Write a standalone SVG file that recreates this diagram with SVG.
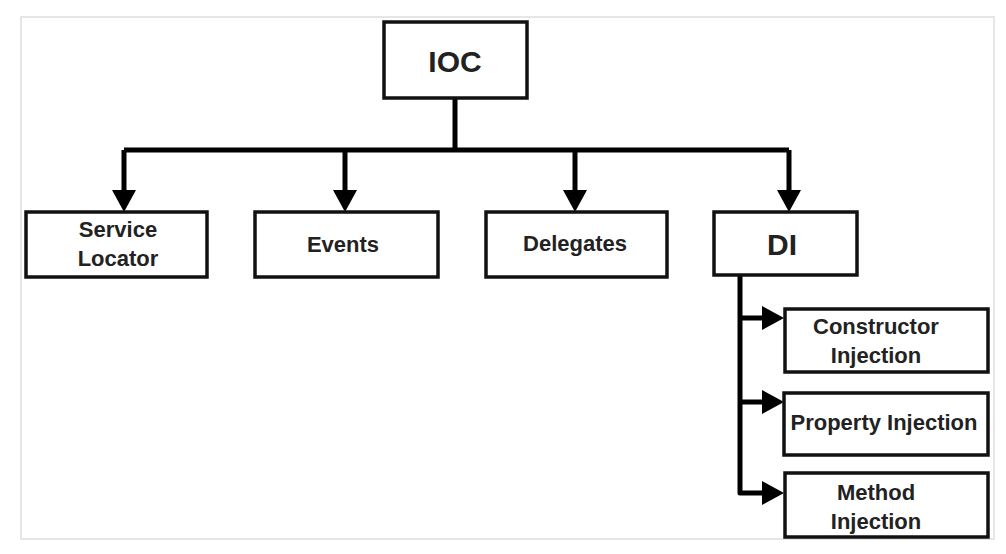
<svg xmlns="http://www.w3.org/2000/svg" width="1006" height="554" viewBox="0 0 1006 554">
<style>
.frame{fill:#fff;stroke:#e6e6e6;stroke-width:2}
.box{fill:#fff;stroke:#111;stroke-width:3.5}
.lbl{font-family:"Liberation Sans",Arial,sans-serif;font-weight:bold;font-size:22px;fill:#222;text-anchor:middle}
.big{font-size:30px}
.wire{fill:none;stroke:#000;stroke-width:5;stroke-linejoin:round}
.head{fill:#000}
</style>
<rect width="1006" height="554" fill="#fff"/>
<rect class="frame" x="21" y="17" width="973" height="522"/>
<g id="connectors">
<path class="wire" d="M455 98V150M124 150H789M124 150V194M345 150V194M575 150V194M789 150V194"/>
<path class="wire" d="M740 275V493H766M740 318H766M740 402H766"/>
<polygon class="head" points="112,190 136,190 124,212"/>
<polygon class="head" points="333,190 357,190 345,212"/>
<polygon class="head" points="563,190 587,190 575,212"/>
<polygon class="head" points="777,190 801,190 789,212"/>
<polygon class="head" points="762,306 762,330 784,318"/>
<polygon class="head" points="762,390 762,414 784,402"/>
<polygon class="head" points="762,481 762,505 784,493"/>
</g>
<g id="ioc"><rect class="box" x="384" y="22" width="143" height="76"/><text class="lbl big" x="455" y="72">IOC</text></g>
<g id="service-locator"><rect class="box" x="26" y="212" width="181" height="65"/><text class="lbl" x="118" y="237">Service</text><text class="lbl" x="118" y="266">Locator</text></g>
<g id="events"><rect class="box" x="255" y="212" width="183" height="65"/><text class="lbl" x="343" y="252">Events</text></g>
<g id="delegates"><rect class="box" x="486" y="212" width="181" height="65"/><text class="lbl" x="575" y="251">Delegates</text></g>
<g id="di"><rect class="box" x="714" y="212" width="143" height="63"/><text class="lbl big" x="782" y="255">DI</text></g>
<g id="constructor-injection"><rect class="box" x="785" y="309" width="203" height="63"/><text class="lbl" x="876" y="334">Constructor</text><text class="lbl" x="876" y="363">Injection</text></g>
<g id="property-injection"><rect class="box" x="784" y="393" width="204" height="62"/><text class="lbl" x="884" y="430">Property Injection</text></g>
<g id="method-injection"><rect class="box" x="785" y="473" width="203" height="64"/><text class="lbl" x="876" y="500">Method</text><text class="lbl" x="876" y="529">Injection</text></g>
</svg>
